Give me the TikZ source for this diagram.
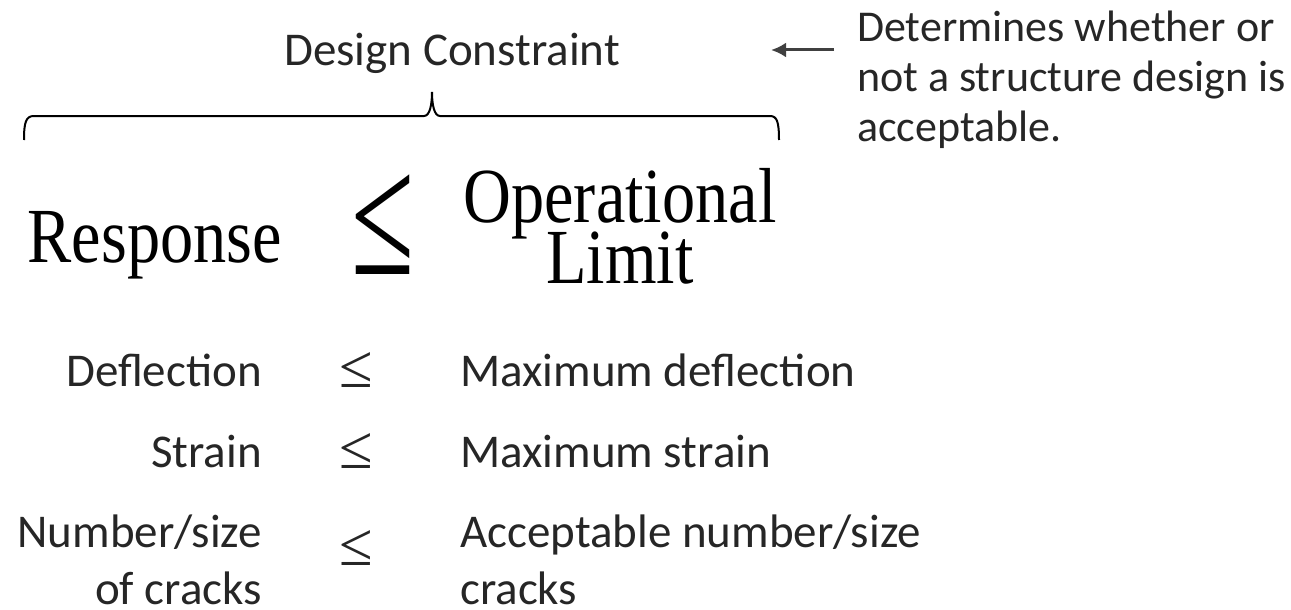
\documentclass[tikz,border=0pt]{standalone}
\usepackage{fontspec}
\setmainfont{Carlito}
\newfontfamily\bigserif[FakeStretch=0.85]{Liberation Serif}
\newfontfamily\symserif{Liberation Serif}
\usetikzlibrary{arrows.meta}
\definecolor{textgray}{RGB}{38,38,38}
\definecolor{arrowgray}{RGB}{64,64,64}
\setlength{\lineskiplimit}{-100pt}

\begin{document}
\begin{tikzpicture}
    [
    x=1pt, y=-1pt,
    txt/.style={
      text=textgray,
      font=\fontsize{47}{57}\selectfont,
      inner sep=0pt
    },
    bigtxt/.style={
      font=\bigserif\fontsize{78}{61}\selectfont,
      inner sep=0pt
    },
    smallleq/.style={
      text=textgray,
      font=\symserif\fontsize{61}{61}\selectfont,
      inner sep=0pt
    },
    brace/.style={
      draw=black,
      line width=2pt
    },
    pointer/.style={
      draw=arrowgray,
      line width=3pt,
      -{Latex[length=15pt,width=15pt]}
    }
    ]
    \useasboundingbox (0,0) rectangle (1291,610);

    % top: the constraint and its note
    \node (constraint) at (452,66) [txt, anchor=base] {Design Constraint};
    \node (note) at (857,141) [txt, anchor=base west, align=left,
      font=\fontsize{44}{50}\selectfont]
      {Determines whether or\\not a structure design is\\acceptable.};
    \coordinate (tail) at (834,50);
    \coordinate (tip) at (771,50);
    \draw [pointer] (tail) -- (tip);
    \draw [brace] (24,140) .. controls (24,122) and (26,116) .. (34,116)
      -- (424,116) .. controls (430,116) and (432,104) .. (432,92)
      .. controls (432,104) and (434,116) .. (440,116)
      -- (770,116) .. controls (777,116) and (779,122) .. (779,140);

    % the general rule
    \node (response) at (282,262) [bigtxt, anchor=base east] {Response};
    \node (bigleq) at (383,225) [inner sep=0pt]
      {\scalebox{0.66}[1]{\symserif\fontsize{174}{174}\selectfont ≤}};
    \node (limit) at (620,283) [bigtxt, anchor=base, align=center]
      {Operational\\Limit};

    % the cases
    \node (defl) at (262,386) [txt, anchor=base east] {Deflection};
    \node (leq1) at (356,370) [smallleq] {≤};
    \node (maxdefl) at (460,386) [txt, anchor=base west] {Maximum deflection};
    \node (strain) at (262,467) [txt, anchor=base east] {Strain};
    \node (leq2) at (356,451) [smallleq] {≤};
    \node (maxstrain) at (460,467) [txt, anchor=base west] {Maximum strain};
    \node (cracks) at (262,604) [txt, anchor=base east, align=right]
      {Number/size\\of cracks};
    \node (leq3) at (356,548) [smallleq] {≤};
    \node (okcracks) at (460,604) [txt, anchor=base west, align=left]
      {Acceptable number/size\\cracks};
  \end{tikzpicture}
\end{document}
